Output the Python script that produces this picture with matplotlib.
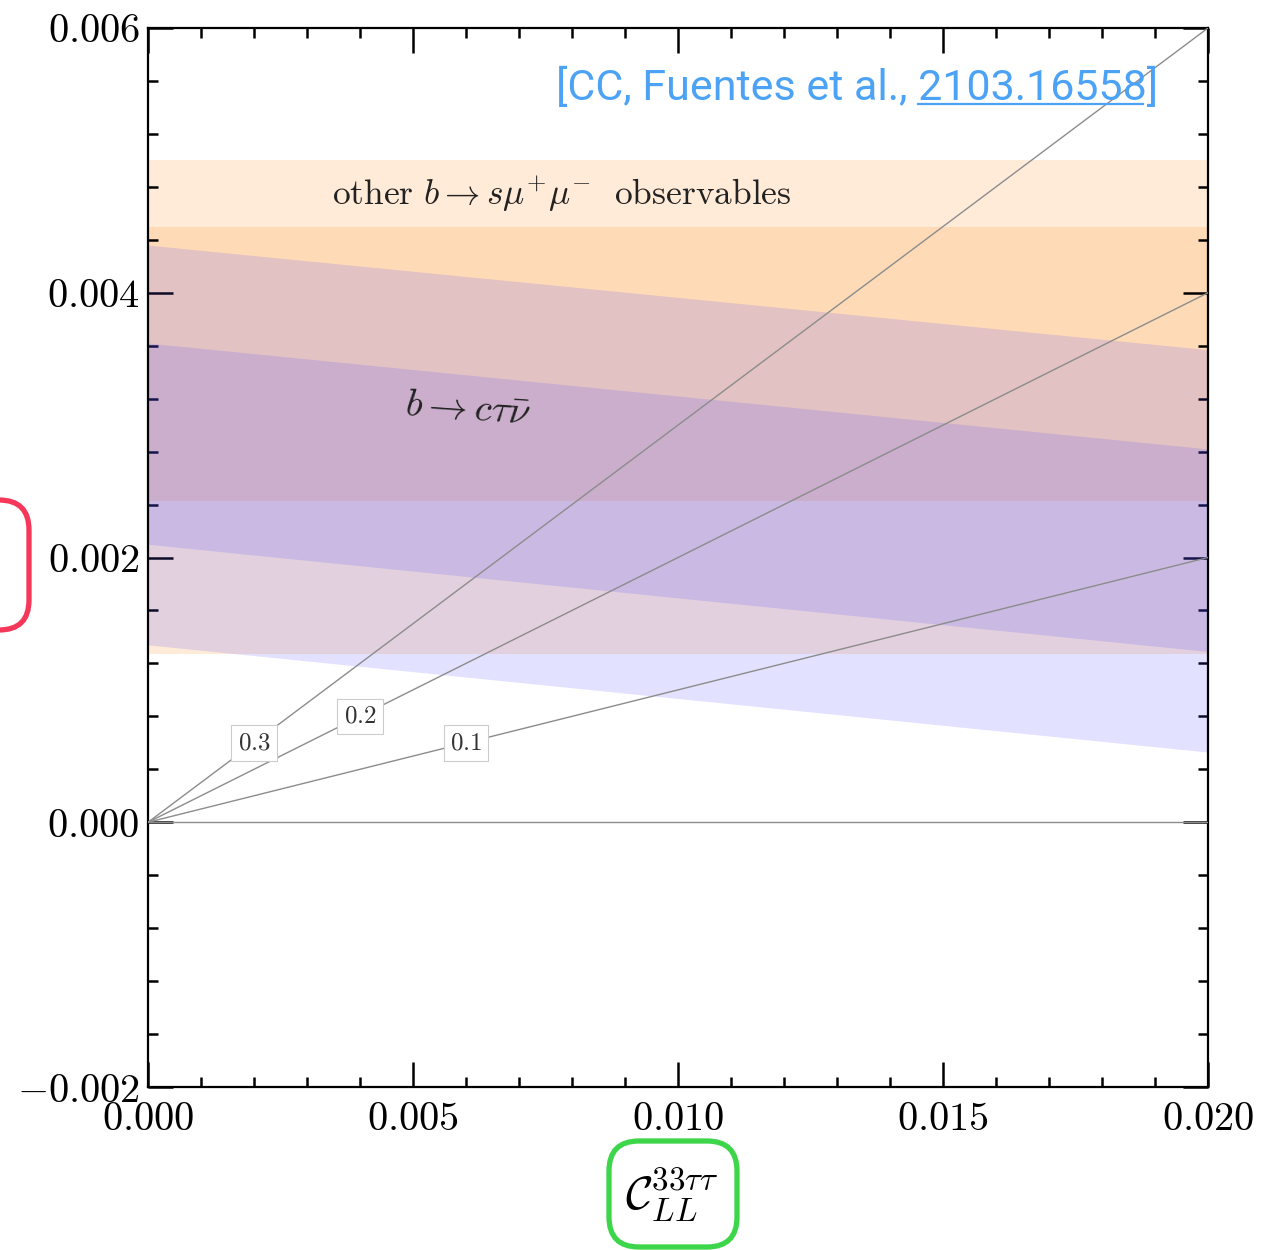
import matplotlib
matplotlib.use("Agg")
import matplotlib.pyplot as plt
from matplotlib.patches import FancyBboxPatch
from matplotlib.transforms import IdentityTransform
from matplotlib.ticker import MultipleLocator, FuncFormatter

plt.rcParams['mathtext.fontset'] = 'cm'
plt.rcParams['font.family'] = ['DejaVu Serif']

# band edges at x = 0 and x = 0.02
x_band = [0.0, 0.02]
bsmumu_2s = (0.00127, 0.0050)   # other b -> s mu mu, 2 sigma
bsmumu_1s = (0.00243, 0.0045)   # other b -> s mu mu, 1 sigma
bctn_2s_lo = [0.00134, 0.00053]
bctn_2s_hi = [0.00436, 0.00357]
bctn_1s_lo = [0.00210, 0.00129]
bctn_1s_hi = [0.00362, 0.00282]

# ratio lines through the origin
ratios = [0.0, 0.1, 0.2, 0.3]
ratio_label_x = {0.1: 0.0060, 0.2: 0.0040, 0.3: 0.0020}

W, H = 1287, 1250
fig = plt.figure(figsize=(W / 100, H / 100), dpi=100)
ax = fig.add_axes([148 / W, 163 / H, 1060 / W, 1059 / H])

orange = (1.0, 0.55, 0.10)
purple = (0.30, 0.28, 1.0)
for lo, hi in (bsmumu_2s, bsmumu_1s):
    ax.fill_between(x_band, [lo, lo], [hi, hi], color=orange, alpha=0.17,
                    lw=0, zorder=1)
for lo, hi in ((bctn_2s_lo, bctn_2s_hi), (bctn_1s_lo, bctn_1s_hi)):
    ax.fill_between(x_band, lo, hi, color=purple, alpha=0.16, lw=0, zorder=2)

for r in ratios:
    ax.plot(x_band, [r * x_band[0], r * x_band[1]], color='#8c8c8c', lw=1.0,
            zorder=3)
for r, xl in ratio_label_x.items():
    ax.text(xl, r * xl, f'${r:.1f}$', fontsize=18, color='#333333',
            ha='center', va='center', zorder=4,
            bbox=dict(boxstyle='square,pad=0.25', fc='white', ec='#cccccc',
                      lw=0.8))

ax.text(0.00781, 0.00474,
        r'$\mathrm{other}\ b \rightarrow s\mu^{+}\mu^{-}\ \ \mathrm{observables}$',
        fontsize=25.5, ha='center', va='center', color='#222222', zorder=5)
ax.text(0.00602, 0.00312, r'$b \rightarrow c\tau\bar{\nu}$', fontsize=28,
        ha='center', va='center', rotation=-4, color='#222222', zorder=5)

ax.set_xlim(0, 0.02)
ax.set_ylim(-0.002, 0.006)
ax.xaxis.set_major_locator(MultipleLocator(0.005))
ax.xaxis.set_minor_locator(MultipleLocator(0.001))
ax.yaxis.set_major_locator(MultipleLocator(0.002))
ax.yaxis.set_minor_locator(MultipleLocator(0.0004))
fmt = FuncFormatter(lambda v, pos: f'${v:.3f}$')
ax.xaxis.set_major_formatter(fmt)
ax.yaxis.set_major_formatter(fmt)
ax.tick_params(which='both', direction='in', top=True, right=True,
               labelsize=29, width=1.8, colors='black')
ax.tick_params(which='major', length=18)
ax.tick_params(which='minor', length=7.5)
ax.tick_params(axis='x', pad=10)
ax.tick_params(axis='y', pad=6)
for sp in ax.spines.values():
    sp.set_linewidth(1.6)

# x label
fig.text(672 / W, (H - 1195) / H, r'$\mathcal{C}_{LL}^{33\tau\tau}$',
         fontsize=34, ha='center', va='center')

# citation with underlined arXiv number
cite_x, cite_y = 1158, H - 100
cite_kw = dict(fontsize=31, family='Roboto', color='#4ca3f5',
               va='baseline', ha='right', transform=IdentityTransform())
fig.text(cite_x, cite_y, '[CC, Fuentes et al., 2103.16558]', **cite_kw)
renderer = fig.canvas.get_renderer()
probe_a = fig.text(cite_x, cite_y, '2103.16558]', alpha=0, **cite_kw)
probe_b = fig.text(cite_x, cite_y, ']', alpha=0, **cite_kw)
wa = probe_a.get_window_extent(renderer).width
wb = probe_b.get_window_extent(renderer).width
probe_a.remove()
probe_b.remove()
fig.add_artist(plt.Line2D([cite_x - wa, cite_x - wb - 4], [cite_y - 4, cite_y - 4],
                          color='#4ca3f5', lw=1.6, transform=IdentityTransform()))

# highlight boxes
for (x0, y0, x1, y1), col in (((609, 1141, 737, 1247), '#3dd64a'),
                              ((-60, 500, 29, 630), '#f5375a')):
    box = FancyBboxPatch((x0, H - y1), x1 - x0, y1 - y0,
                         boxstyle='round,pad=0,rounding_size=30',
                         fc='none', ec=col, lw=3.8,
                         transform=IdentityTransform(), clip_on=False)
    fig.add_artist(box)

fig.savefig('out.png', dpi=100)
